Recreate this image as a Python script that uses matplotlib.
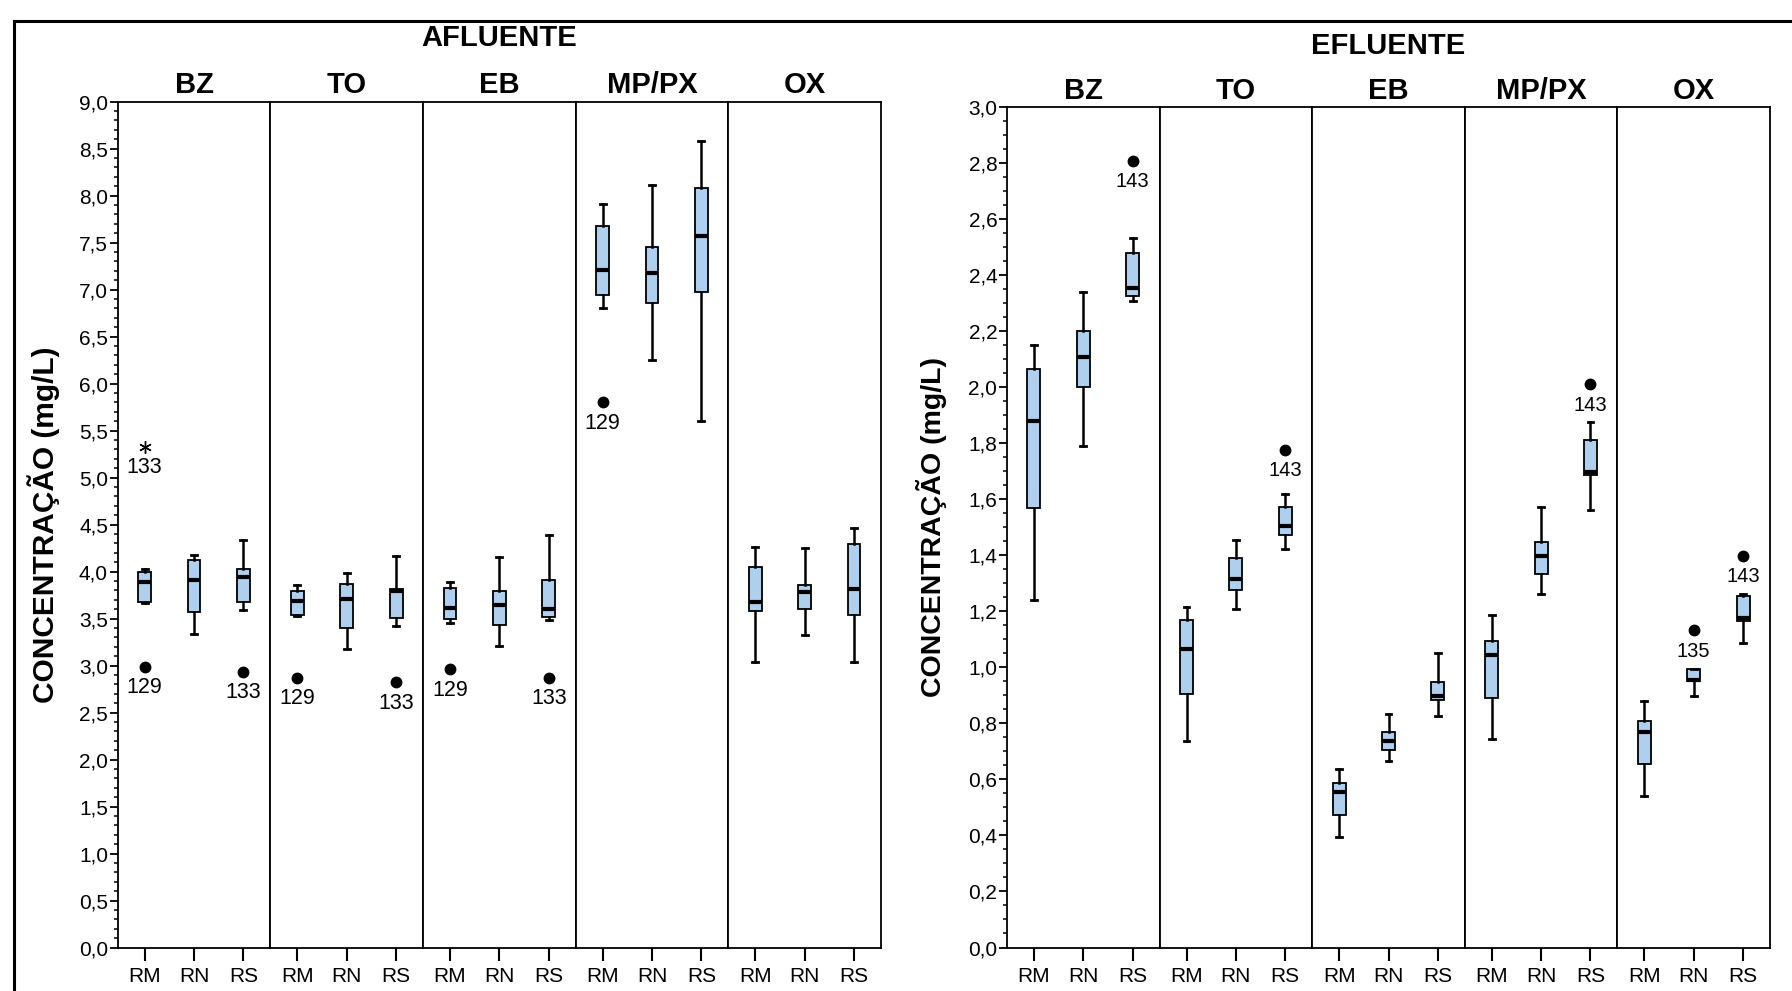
import matplotlib
matplotlib.use("Agg")
import matplotlib.pyplot as plt
from matplotlib import font_manager
from matplotlib.lines import Line2D
from matplotlib.ticker import FixedLocator, MultipleLocator

# --- fonts ---
names = {f.name for f in font_manager.fontManager.ttflist}
NARROW = "Liberation Sans Narrow" if "Liberation Sans Narrow" in names else "Liberation Sans"
REG = "Liberation Sans"

# --- data ---
facets = ["BZ", "TO", "EB", "MP/PX", "OX"]
groups = ["RM", "RN", "RS"]

# AFLUENTE: per facet, per group (RM, RN, RS)
af_whislo = [[3.67, 3.34, 3.59], [3.53, 3.18, 3.42], [3.45, 3.21, 3.49], [6.80, 6.25, 5.60], [3.04, 3.33, 3.04]]
af_q1     = [[3.68, 3.57, 3.68], [3.54, 3.40, 3.51], [3.50, 3.43, 3.52], [6.94, 6.86, 6.98], [3.58, 3.60, 3.54]]
af_med    = [[3.89, 3.91, 3.94], [3.69, 3.71, 3.79], [3.61, 3.64, 3.60], [7.21, 7.18, 7.57], [3.68, 3.78, 3.81]]
af_q3     = [[4.00, 4.12, 4.03], [3.79, 3.87, 3.81], [3.83, 3.79, 3.91], [7.68, 7.45, 8.08], [4.05, 3.86, 4.29]]
af_whishi = [[4.03, 4.18, 4.34], [3.86, 3.99, 4.17], [3.89, 4.15, 4.39], [7.91, 8.11, 8.58], [4.26, 4.25, 4.46]]
# outliers: facet index, group index, value, case label, marker
af_out = [(0, 0, 2.99, "129", "o"), (0, 0, 5.33, "133", "*"), (0, 2, 2.93, "133", "o"),
          (1, 0, 2.87, "129", "o"), (1, 2, 2.82, "133", "o"),
          (2, 0, 2.96, "129", "o"), (2, 2, 2.87, "133", "o"),
          (3, 0, 5.80, "129", "o")]

# EFLUENTE
ef_whislo = [[1.24, 1.79, 2.31], [0.737, 1.21, 1.422], [0.396, 0.666, 0.827], [0.745, 1.262, 1.561], [0.541, 0.899, 1.086]]
ef_q1     = [[1.57, 2.00, 2.325], [0.905, 1.278, 1.473], [0.473, 0.704, 0.885], [0.892, 1.335, 1.6875], [0.655, 0.953, 1.167]]
ef_med    = [[1.88, 2.11, 2.355], [1.065, 1.316, 1.505], [0.555, 0.739, 0.897], [1.045, 1.399, 1.699], [0.771, 0.955, 1.176]]
ef_q3     = [[2.065, 2.20, 2.48], [1.17, 1.39, 1.574], [0.588, 0.770, 0.949], [1.096, 1.448, 1.8125], [0.81, 0.996, 1.255]]
ef_whishi = [[2.15, 2.34, 2.535], [1.216, 1.454, 1.62], [0.637, 0.834, 1.051], [1.1875, 1.572, 1.876], [0.880, 0.996, 1.261]]
ef_out = [(0, 2, 2.81, "143", "o"), (1, 2, 1.776, "143", "o"), (3, 2, 2.011, "143", "o"),
          (4, 1, 1.133, "135", "o"), (4, 2, 1.398, "143", "o")]

BOXC = "#AECFEE"
W, H = 1792, 991
fig = plt.figure(figsize=(W / 100, H / 100), dpi=100)


def panel(x0px, toppx, botpx, fw, ymax, major, minor, lo, q1, med, q3, hi, outs,
          title, title_y, facet_y, ylab_x, ylab_size, lab_size):
    axes = []
    for f in range(5):
        ax = fig.add_axes([(x0px + f * fw) / W, (H - botpx) / H, fw / W, (botpx - toppx) / H])
        stats = [dict(whislo=lo[f][g], q1=q1[f][g], med=med[f][g], q3=q3[f][g],
                      whishi=hi[f][g], fliers=[]) for g in range(3)]
        ax.bxp(stats, positions=[1, 2, 3], widths=0.26, capwidths=0.12, showfliers=False,
               patch_artist=True,
               boxprops=dict(facecolor=BOXC, edgecolor="black", linewidth=1.3),
               medianprops=dict(color="black", linewidth=3.0),
               whiskerprops=dict(color="black", linewidth=1.8),
               capprops=dict(color="black", linewidth=2.0))
        for (ff, g, v, lab, mk) in outs:
            if ff != f:
                continue
            if mk == "*":
                ax.plot(g + 1, v, marker=(6, 2, 0), ms=9, mec="black", mew=1.0, ls="none")
            else:
                ax.plot(g + 1, v, marker="o", ms=7.5, mfc="black", mec="black", ls="none")
            ax.annotate(lab, (g + 1, v), xytext=(0, -15), textcoords="offset points",
                        ha="center", va="center", fontsize=lab_size, family=REG)
        ax.set_xlim(0.455, 3.545)
        ax.set_ylim(0, ymax)
        ax.set_xticks([1, 2, 3])
        ax.set_xticklabels(groups, fontsize=15, family=NARROW)
        ax.tick_params(axis="x", length=9, width=1.5, pad=5, color="black")
        for s in ax.spines.values():
            s.set_linewidth(1.3)
            s.set_color("black")
        ax.set_title(facets[f], fontsize=21, fontweight="bold", family=NARROW,
                     y=1.0, pad=facet_y)
        if f == 0:
            ticks = [i * major for i in range(int(round(ymax / major)) + 1)]
            ax.yaxis.set_major_locator(FixedLocator(ticks))
            ax.set_yticklabels([f"{t:.1f}".replace(".", ",") for t in ticks],
                               fontsize=15, family=NARROW)
            ax.yaxis.set_minor_locator(MultipleLocator(minor))
            ax.tick_params(axis="y", which="major", length=6, width=1.3, pad=1)
            ax.tick_params(axis="y", which="minor", length=3, width=1.1)
        else:
            ax.set_yticks([])
        axes.append(ax)
    cx = (x0px + 2.5 * fw) / W
    fig.text(cx, 1 - title_y / H, title, ha="center", va="center", fontsize=21,
             fontweight="bold", family=NARROW)
    fig.text(ylab_x / W, 1 - ((toppx + botpx) / 2) / H, "CONCENTRAÇÃO (mg/L)",
             rotation=90, ha="center", va="center", fontsize=ylab_size,
             fontweight="bold", family=REG)
    return axes


panel(117.7, 101.7, 947.5, 152.66, 9.0, 0.5, 0.1,
      af_whislo, af_q1, af_med, af_q3, af_whishi, af_out,
      "AFLUENTE", 38.0, 6, 43.4, 21.5, 15.5)
panel(1007.0, 107.4, 947.5, 152.6, 3.0, 0.2, 0.05,
      ef_whislo, ef_q1, ef_med, ef_q3, ef_whishi, ef_out,
      "EFLUENTE", 45.5, 6, 931.5, 20.5, 14.5)

# outer frame of the screenshot
fig.add_artist(Line2D([13.7 / W, 13.7 / W], [0, 1 - 20.5 / H], color="black", lw=2.2))
fig.add_artist(Line2D([13.7 / W, 1], [1 - 20.5 / H, 1 - 20.5 / H], color="black", lw=2.2))

fig.savefig("out.png", dpi=100)
